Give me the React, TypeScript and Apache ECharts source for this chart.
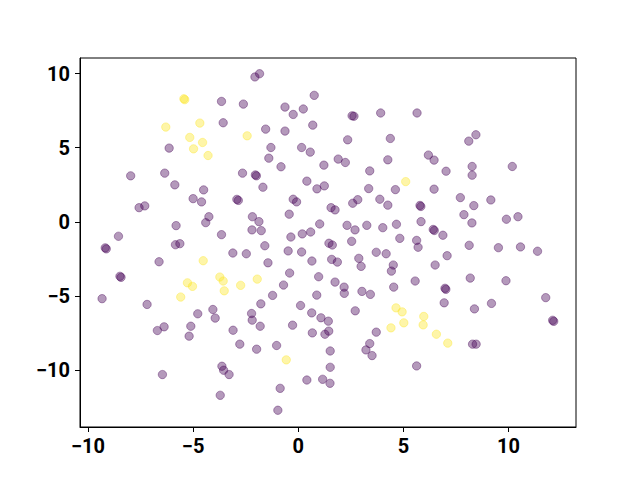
import React, { useEffect, useRef } from "react";
import * as echarts from "echarts";

// group 0 (purple) points [x, y]
const purplePoints: number[][] = [
  [-3.65, 8.12], [-2.61, 7.94], [-3.57, 6.68], [-6.14, 4.97], [-7.97, 3.10],
  [-6.35, 3.28], [-2.65, 3.28], [-2.06, 9.77], [-1.84, 9.99], [0.76, 8.53],
  [-0.63, 7.74], [-0.24, 7.24], [0.24, 7.61], [2.56, 7.15], [2.65, 7.12],
  [3.92, 7.34], [5.65, 7.34], [-1.55, 6.25], [-0.63, 6.12], [0.69, 6.52],
  [2.35, 5.53], [4.38, 5.62], [-1.30, 5.01], [0.16, 5.01], [0.57, 4.70],
  [-1.40, 4.29], [-0.82, 3.71], [1.22, 3.82], [1.90, 4.23], [2.24, 4.00],
  [4.26, 4.18], [3.40, 3.43], [-2.04, 3.16], [-1.99, 3.10], [0.41, 2.74],
  [8.45, 5.87], [8.11, 5.44], [6.19, 4.50], [6.46, 4.16], [7.03, 3.41],
  [8.27, 3.73], [8.27, 3.14], [10.18, 3.73], [-5.87, 2.49], [-4.50, 2.15],
  [-5.00, 1.56], [-4.60, 1.34], [-2.92, 1.51], [-2.85, 1.44], [-7.57, 0.95],
  [-7.30, 1.07], [-4.25, 0.34], [-4.40, -0.06], [-2.18, 0.34], [-5.81, -0.26],
  [-8.55, -0.98], [-3.65, -0.87], [-2.20, -0.55], [-9.18, -1.76], [-9.13, -1.83],
  [-5.84, -1.55], [-5.63, -1.48], [-3.11, -2.11], [-2.47, -2.16], [-6.62, -2.70],
  [-8.48, -3.68], [-8.43, -3.75], [-9.33, -5.19], [-7.19, -5.58], [-1.68, 2.33],
  [0.89, 2.22], [1.24, 2.42], [3.35, 2.24], [4.62, 2.17], [-0.24, 1.52],
  [-0.08, 1.34], [1.56, 0.95], [1.75, 0.80], [2.59, 1.25], [2.83, 1.49],
  [3.88, 1.52], [4.26, 1.12], [-1.87, 0.01], [-1.76, -0.60], [-0.43, 0.51],
  [1.02, -0.15], [2.32, -0.24], [2.70, -0.55], [3.26, -0.24], [4.02, -0.40],
  [4.67, -0.17], [4.83, -1.12], [-0.35, -1.03], [0.19, -0.82], [0.59, -0.69],
  [1.46, -1.45], [1.62, -1.57], [2.54, -1.32], [5.63, -1.26], [-1.59, -1.62],
  [-0.48, -1.97], [0.16, -2.04], [3.71, -2.06], [4.18, -2.16], [-1.44, -2.77],
  [0.65, -2.65], [1.59, -2.54], [1.86, -2.72], [2.88, -2.47], [2.99, -3.01],
  [4.52, -2.92], [4.43, -3.33], [-0.41, -3.46], [0.97, -3.71], [1.75, -4.07],
  [2.18, -4.41], [2.19, -4.83], [-0.70, -4.27], [-1.22, -4.97], [0.88, -4.95],
  [3.03, -4.70], [3.43, -4.90], [4.54, -4.41], [5.56, -4.00], [-1.78, -5.54],
  [6.46, 2.20], [7.71, 1.63], [8.35, 1.09], [9.16, 1.47], [5.79, 1.10],
  [5.83, 1.03], [5.84, 0.01], [7.88, 0.48], [8.26, -0.08], [9.90, 0.17],
  [10.45, 0.34], [6.42, -0.52], [6.47, -0.59], [6.88, -0.91], [5.70, -1.72],
  [8.13, -1.59], [9.52, -1.75], [10.57, -1.70], [11.38, -1.99], [7.08, -2.29],
  [6.51, -2.92], [8.18, -3.80], [9.88, -3.98], [6.98, -4.49], [7.02, -4.56],
  [6.94, -5.47], [9.19, -5.51], [11.77, -5.12], [-4.78, -6.21], [-4.06, -5.92],
  [-3.95, -6.50], [-2.22, -6.19], [-2.19, -6.64], [-6.70, -7.34], [-6.38, -7.09],
  [-5.11, -7.05], [-5.19, -7.72], [-3.10, -7.32], [-2.78, -8.26], [-3.63, -9.75],
  [-3.55, -10.02], [-3.29, -10.31], [-6.46, -10.31], [-3.71, -11.71], [-1.81, -7.05],
  [0.11, -5.65], [0.64, -6.15], [1.08, -6.48], [1.43, -6.71], [-0.27, -6.98],
  [0.67, -7.50], [1.27, -7.59], [1.45, -7.38], [2.71, -6.01], [3.71, -7.45],
  [3.40, -8.22], [3.22, -8.65], [3.51, -9.03], [-1.98, -8.60], [-1.03, -8.35],
  [1.52, -8.72], [1.52, -9.82], [0.41, -10.68], [1.16, -10.63], [1.51, -10.90],
  [-0.86, -11.24], [-0.97, -12.72], [5.63, -9.73], [8.38, -5.88], [12.10, -6.65],
  [12.15, -6.72], [8.29, -8.26], [8.46, -8.26],
];

// group 1 (yellow) points [x, y]
const yellowPoints: number[][] = [
  [-5.44, 8.30], [-5.40, 8.24], [-6.30, 6.39], [-4.68, 6.66], [-2.43, 5.80],
  [-5.16, 5.69], [-4.55, 5.35], [-4.98, 4.92], [-4.29, 4.47], [5.11, 2.71],
  [-4.52, -2.63], [-5.27, -4.12], [-5.03, -4.36], [-3.73, -3.73], [-3.57, -4.00],
  [-3.52, -4.66], [-2.74, -4.29], [-5.59, -5.08], [-1.95, -3.87], [-0.57, -9.32],
  [4.65, -5.81], [4.94, -6.08], [4.41, -7.16], [5.02, -6.82], [5.97, -6.39],
  [5.94, -6.96], [6.57, -7.59], [7.11, -8.19],
];

const xTicks = [-10, -5, 0, 5, 10];
const yTicks = [-10, -5, 0, 5, 10];

const PURPLE = "rgba(68, 1, 84, 0.4)";
const YELLOW = "rgba(253, 231, 37, 0.4)";

export default function App() {
  const ref = useRef<HTMLDivElement>(null);

  useEffect(() => {
    if (!ref.current) return;
    const chart = echarts.init(ref.current, undefined, { renderer: "svg" });
    const labelStyle = {
      fontFamily: "Roboto",
      fontWeight: "bold" as const,
      fontSize: 20,
      color: "#000",
    };
    const labelFmt = (v: number) => (v < 0 ? "\u2212" + Math.abs(v) : String(v));
    chart.setOption({
      animation: false,
      backgroundColor: "#fff",
      grid: {
        left: 80,
        right: 64,
        top: 58,
        bottom: 53,
        show: true,
        borderColor: "#000",
        borderWidth: 1,
        backgroundColor: "transparent",
      },
      xAxis: {
        type: "value",
        min: -10.38,
        max: 13.21,
        splitLine: { show: false },
        axisLine: { show: true, onZero: false, lineStyle: { color: "#000", width: 1 } },
        axisTick: {
          show: true,
          inside: false,
          length: 5,
          customValues: xTicks,
          lineStyle: { color: "#000", width: 1 },
        },
        axisLabel: {
          ...labelStyle,
          margin: 9,
          customValues: xTicks,
          formatter: labelFmt,
        },
      },
      yAxis: {
        type: "value",
        min: -13.85,
        max: 11.05,
        splitLine: { show: false },
        axisLine: { show: true, onZero: false, lineStyle: { color: "#000", width: 1 } },
        axisTick: {
          show: true,
          inside: false,
          length: 5,
          customValues: yTicks,
          lineStyle: { color: "#000", width: 1 },
        },
        axisLabel: {
          ...labelStyle,
          margin: 10,
          customValues: yTicks,
          formatter: labelFmt,
        },
      },
      series: [
        {
          type: "scatter",
          data: purplePoints,
          symbol: "circle",
          symbolSize: 8.3,
          itemStyle: { color: PURPLE, borderColor: PURPLE, borderWidth: 1, opacity: 1 },
        },
        {
          type: "scatter",
          data: yellowPoints,
          symbol: "circle",
          symbolSize: 8.3,
          itemStyle: { color: YELLOW, borderColor: YELLOW, borderWidth: 1, opacity: 1 },
        },
      ],
    });
    return () => chart.dispose();
  }, []);

  return (
    <div
      ref={ref}
      style={{ position: "fixed", left: 0, top: 0, width: 640, height: 480 }}
    />
  );
}
